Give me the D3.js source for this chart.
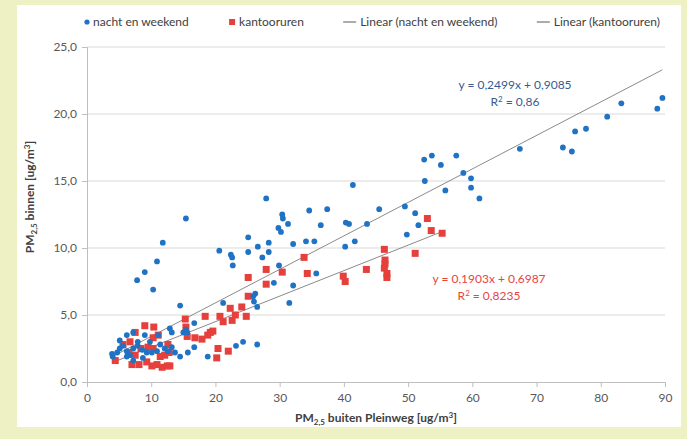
<!DOCTYPE html>
<html>
<head>
<meta charset="utf-8">
<script src="https://cdn.jsdelivr.net/npm/d3@7"></script>
<style>
  html, body { margin: 0; padding: 0; background: #eef1c3; }
  svg { display: block; }
  text { font-family: Lato, "Open Sans", sans-serif; }
</style>
</head>
<body>
<svg id="chart" width="687" height="439"></svg>
<script>
// PM2.5 outdoors (Pleinweg) vs indoors, two measurement periods
const seriesNames = ["nacht en weekend", "kantooruren"];

const nachtX = [89.6, 88.8, 83.2, 81.0, 77.7, 76.0, 75.5, 74.1, 67.4, 61.1, 59.8, 59.8, 58.6, 57.5, 55.1, 55.8,
  53.7, 52.5, 52.6, 51.6, 51.1, 49.5, 49.8, 45.5, 43.6, 41.7, 41.4, 40.8, 40.3, 40.2, 37.4, 36.4, 35.7, 35.4,
  34.6, 34.1, 32.1, 32.1, 31.3, 30.5, 30.4, 30.2, 29.8, 29.9, 29.1, 28.3, 28.3, 27.9, 27.3, 26.6, 26.5, 26.5,
  26.2, 26.0, 25.9, 25.1, 25.1, 24.3, 23.2, 22.7, 22.6, 22.4, 21.2, 20.6, 18.8, 16.7, 16.7, 15.7, 15.6, 15.0,
  15.4, 15.4, 14.5, 14.5, 11.8, 10.9, 10.3, 9.0, 7.8, 31.5,
  3.9, 4.0, 4.7, 5.1, 5.6, 6.2, 6.7, 7.2, 7.9, 8.6, 9.3, 10.1, 10.9, 11.4, 12.1, 12.6, 13.2, 13.7, 11.1, 12.9,
  13.2, 9.0, 9.8, 7.9, 6.2, 5.1, 6.2, 7.2, 8.7, 7.2];
const nachtY = [21.2, 20.4, 20.8, 19.8, 18.9, 18.7, 17.2, 17.5, 17.4, 13.7, 14.5, 15.2, 15.6, 16.9, 16.2, 14.3,
  16.9, 16.6, 15.0, 11.7, 12.6, 13.1, 11.0, 12.9, 11.8, 10.5, 14.7, 11.8, 11.9, 10.1, 12.9, 11.7, 8.1, 10.5,
  12.8, 10.5, 10.3, 7.2, 11.8, 12.2, 12.5, 11.2, 11.5, 8.7, 7.4, 10.4, 9.7, 13.7, 9.3, 10.1, 5.6, 2.8,
  6.6, 6.0, 6.4, 10.8, 9.7, 3.0, 2.7, 8.7, 9.3, 9.5, 5.9, 9.8, 1.9, 4.4, 2.6, 2.2, 3.7, 3.7,
  3.9, 12.2, 5.7, 1.9, 10.4, 9.0, 6.9, 8.2, 7.6, 5.9,
  2.1, 1.9, 2.2, 2.5, 2.7, 2.3, 2.0, 2.5, 2.7, 2.4, 2.2, 2.2, 2.3, 2.8, 2.5, 2.3, 2.6, 2.2, 3.5, 4.0,
  3.7, 3.5, 3.0, 3.0, 3.5, 3.1, 1.9, 1.6, 1.8, 3.7];

const kantoorX = [33.8, 34.3, 39.9, 40.2, 43.5, 46.3, 46.4, 46.4, 46.3, 46.7, 46.7, 51.1, 53.0, 53.6, 55.3,
  15.3, 18.4, 22.3, 24.1, 24.8, 23.1, 22.6, 21.2, 20.7, 25.1, 27.9, 27.9, 30.4, 25.1,
  15.6, 16.8, 17.9, 18.8, 19.6, 20.4, 22.0, 20.2, 9.0, 10.4, 11.1, 7.5, 10.3, 12.6, 15.4, 19.2,
  4.4, 5.6, 6.7, 6.5, 7.5, 8.4, 7.0, 8.1, 9.3, 10.1, 10.9, 11.7, 12.5, 12.9, 11.4, 12.1, 10.3, 9.5, 12.8];
const kantoorY = [9.3, 8.1, 7.9, 7.5, 8.4, 9.9, 9.1, 8.8, 8.5, 8.1, 7.8, 9.6, 12.2, 11.3, 11.1,
  4.7, 4.9, 5.5, 5.6, 4.9, 5.0, 4.6, 4.5, 4.9, 6.4, 7.3, 8.4, 8.2, 7.8,
  3.4, 3.3, 3.2, 3.5, 3.8, 2.5, 2.3, 1.8, 4.2, 4.1, 3.5, 3.7, 3.3, 2.8, 4.1, 3.7,
  1.6, 2.8, 3.0, 2.2, 2.0, 2.5, 1.3, 1.3, 1.5, 1.2, 1.3, 1.1, 1.2, 1.2, 1.9, 2.0, 2.5, 2.6, 2.2];

// Linear trendlines: slope, intercept, R²
const trendNacht = { slope: 0.2499, intercept: 0.9085, r2: 0.86 };
const trendKantoor = { slope: 0.1903, intercept: 0.6987, r2: 0.8235 };

const xTicks = [0, 10, 20, 30, 40, 50, 60, 70, 80, 90];
const yTicks = [0, 5, 10, 15, 20, 25];

const nl = d3.formatLocale({ decimal: ",", thousands: ".", grouping: [3], currency: ["€", ""] });
const fmt1 = nl.format(".1f");
const fmt4 = v => nl.format(".4f")(v);

const svg = d3.select("#chart");
const blue = "#1f72c4";
const red = "#e5403b";
const trendColor = "#8a8a8a";
const fontSize = "12px";

// white panel on the coloured frame
svg.append("rect").attr("x", 17).attr("y", 5).attr("width", 664).attr("height", 422).attr("fill", "#ffffff");

const x = d3.scaleLinear().domain([0, 90]).range([87, 665]);
const y = d3.scaleLinear().domain([0, 25]).range([382, 47]);

// horizontal gridlines
svg.append("g").selectAll("line").data(yTicks.filter(d => d > 0)).join("line")
  .attr("x1", x(0)).attr("x2", x(90)).attr("y1", d => y(d)).attr("y2", d => y(d))
  .attr("stroke", "#d9d9d9").attr("stroke-width", 1);

// axes
const yAxis = svg.append("g").attr("transform", `translate(${x(0)},0)`)
  .call(d3.axisLeft(y).tickValues(yTicks).tickFormat(fmt1).tickSize(5).tickPadding(5));
const xAxis = svg.append("g").attr("transform", `translate(0,${y(0)})`)
  .call(d3.axisBottom(x).tickValues(xTicks).tickFormat(d3.format("d")).tickSize(5).tickPadding(6));
[xAxis, yAxis].forEach(a => {
  a.select(".domain").attr("stroke", "#bfbfbf");
  a.selectAll(".tick line").attr("stroke", "#bfbfbf");
  a.selectAll(".tick text").attr("fill", "#595959").style("font-size", fontSize)
    .style("font-family", "Lato, 'Open Sans', sans-serif");
});

// trendlines, spanning each series' x-range
function trendLine(xs, t) {
  const ext = d3.extent(xs);
  return ext.map(v => [v, t.slope * v + t.intercept]);
}
const line = d3.line().x(d => x(d[0])).y(d => y(d[1]));
svg.append("path").attr("d", line(trendLine(nachtX, trendNacht)))
  .attr("fill", "none").attr("stroke", trendColor).attr("stroke-width", 1);
svg.append("path").attr("d", line(trendLine(kantoorX, trendKantoor)))
  .attr("fill", "none").attr("stroke", trendColor).attr("stroke-width", 1);

// markers
const nacht = nachtX.map((v, i) => [v, nachtY[i]]);
const kantoor = kantoorX.map((v, i) => [v, kantoorY[i]]);
svg.append("g").selectAll("rect").data(kantoor).join("rect")
  .attr("x", d => x(d[0]) - 3.5).attr("y", d => y(d[1]) - 3.5)
  .attr("width", 7).attr("height", 7).attr("fill", red);
svg.append("g").selectAll("circle").data(nacht).join("circle")
  .attr("cx", d => x(d[0])).attr("cy", d => y(d[1])).attr("r", 2.9).attr("fill", blue);

// trendline equations
function eqText(t, cx, cy, color) {
  const g = svg.append("g").attr("fill", color).style("font-size", fontSize);
  g.append("text").attr("x", cx).attr("y", cy).attr("text-anchor", "middle")
    .text(`y = ${fmt4(t.slope)}x + ${fmt4(t.intercept)}`);
  const r = g.append("text").attr("x", cx).attr("y", cy + 17).attr("text-anchor", "middle");
  r.append("tspan").text("R");
  r.append("tspan").attr("dy", -4).style("font-size", "8px").text("2");
  r.append("tspan").attr("dy", 4).text(` = ${nl.format(",")(t.r2)}`);
}
eqText(trendNacht, 515, 89, "#3a5a8f");
eqText(trendKantoor, 489, 283, "#e8453f");

// legend: items laid out left to right across the top
const lg = svg.append("g").style("font-size", fontSize).attr("fill", "#404040");
const legendItems = [
  { label: seriesNames[0], kind: "dot" },
  { label: seriesNames[1], kind: "square" },
  { label: `Linear (${seriesNames[0]})`, kind: "line" },
  { label: `Linear (${seriesNames[1]})`, kind: "line" }
];
const symW = { dot: 9, square: 11, line: 17 };
const texts = legendItems.map(it => lg.append("text").attr("y", 26).text(it.label));
const widths = texts.map(t => t.node().getComputedTextLength());
const left = 84, right = 660;
const used = d3.sum(widths) + d3.sum(legendItems, it => symW[it.kind]);
const gap = (right - left - used) / (legendItems.length - 1);
let cursor = left;
legendItems.forEach((it, i) => {
  if (it.kind === "dot") {
    lg.append("circle").attr("cx", cursor + 3).attr("cy", 22).attr("r", 2.6).attr("fill", blue);
  } else if (it.kind === "square") {
    lg.append("rect").attr("x", cursor + 1).attr("y", 19).attr("width", 6).attr("height", 6).attr("fill", red);
  } else {
    lg.append("line").attr("x1", cursor).attr("x2", cursor + 13).attr("y1", 22).attr("y2", 22)
      .attr("stroke", "#595959");
  }
  cursor += symW[it.kind];
  texts[i].attr("x", cursor);
  cursor += widths[i] + gap;
});

// axis titles
const xt = svg.append("text").attr("x", 376).attr("y", 422).attr("text-anchor", "middle")
  .attr("fill", "#404040").style("font-size", fontSize).style("font-weight", "bold");
xt.append("tspan").text("PM");
xt.append("tspan").attr("dy", 3).style("font-size", "8px").text("2,5");
xt.append("tspan").attr("dy", -3).text(" buiten Pleinweg [ug/m");
xt.append("tspan").attr("dy", -4).style("font-size", "8px").text("3");
xt.append("tspan").attr("dy", 4).text("]");

const yt = svg.append("text").attr("transform", "translate(34,197) rotate(-90)").attr("text-anchor", "middle")
  .attr("fill", "#404040").style("font-size", fontSize).style("font-weight", "bold");
yt.append("tspan").text("PM");
yt.append("tspan").attr("dy", 3).style("font-size", "8px").text("2,5");
yt.append("tspan").attr("dy", -3).text(" binnen [ug/m");
yt.append("tspan").attr("dy", -4).style("font-size", "8px").text("3");
yt.append("tspan").attr("dy", 4).text("]");
</script>
</body>
</html>
